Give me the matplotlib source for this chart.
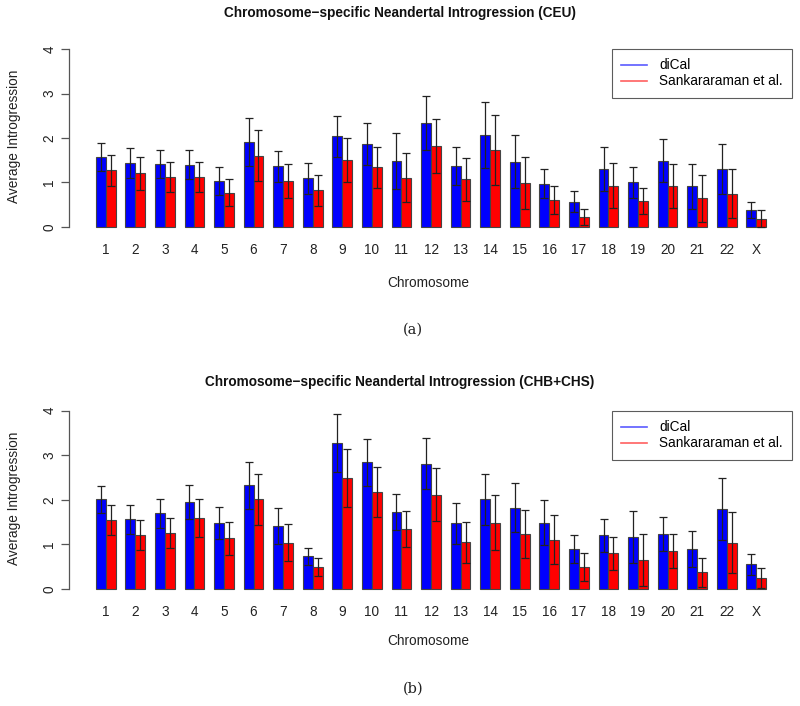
import matplotlib
matplotlib.use("Agg")
import matplotlib.pyplot as plt
from matplotlib.lines import Line2D
import numpy as np

chromosomes = [str(i) for i in range(1, 23)] + ["X"]

ceu_dical = [1.57, 1.44, 1.41, 1.40, 1.03, 1.91, 1.36, 1.09, 2.04, 1.87, 1.48,
             2.34, 1.37, 2.07, 1.47, 0.97, 0.57, 1.30, 1.00, 1.49, 0.91, 1.31, 0.38]
ceu_dical_err = [0.31, 0.34, 0.32, 0.33, 0.32, 0.55, 0.35, 0.34, 0.46, 0.47, 0.63,
                 0.61, 0.43, 0.74, 0.59, 0.33, 0.24, 0.50, 0.34, 0.48, 0.50, 0.56, 0.17]
ceu_sank = [1.27, 1.21, 1.12, 1.12, 0.77, 1.60, 1.04, 0.82, 1.51, 1.34, 1.11,
            1.82, 1.07, 1.73, 0.99, 0.61, 0.23, 0.93, 0.58, 0.92, 0.64, 0.75, 0.18]
ceu_sank_err = [0.34, 0.37, 0.34, 0.34, 0.31, 0.57, 0.38, 0.34, 0.50, 0.46, 0.56,
                0.61, 0.48, 0.78, 0.59, 0.32, 0.18, 0.50, 0.29, 0.49, 0.52, 0.56, 0.19]

chb_dical = [2.01, 1.56, 1.70, 1.95, 1.49, 2.33, 1.41, 0.73, 3.28, 2.84, 1.73,
             2.81, 1.47, 2.01, 1.82, 1.49, 0.90, 1.20, 1.17, 1.23, 0.90, 1.79, 0.55]
chb_dical_err = [0.31, 0.32, 0.33, 0.39, 0.36, 0.53, 0.41, 0.20, 0.65, 0.52, 0.40,
                 0.57, 0.45, 0.58, 0.55, 0.51, 0.32, 0.37, 0.58, 0.38, 0.40, 0.69, 0.24]
chb_sank = [1.55, 1.21, 1.26, 1.59, 1.14, 2.01, 1.04, 0.49, 2.49, 2.18, 1.35,
            2.12, 1.05, 1.49, 1.23, 1.11, 0.49, 0.80, 0.65, 0.85, 0.37, 1.04, 0.25]
chb_sank_err = [0.34, 0.34, 0.34, 0.42, 0.37, 0.57, 0.41, 0.21, 0.64, 0.56, 0.41,
                0.59, 0.46, 0.61, 0.54, 0.54, 0.31, 0.37, 0.58, 0.39, 0.33, 0.69, 0.22]

titles = ["Chromosome\u2212specific Neandertal Introgression (CEU)",
          "Chromosome\u2212specific Neandertal Introgression (CHB+CHS)"]
captions = ["(a)", "(b)"]
legend_labels = ["diCal", "Sankararaman et al."]

plt.rcParams['font.family'] = ['Liberation Sans', 'DejaVu Sans']

W, H = 800, 706
fig = plt.figure(figsize=(W / 100, H / 100), dpi=100)

def fx(px):
    return px / W

def fy(py):
    return 1 - py / H

panels = [
    dict(top=42, bottom=234, data=(ceu_dical, ceu_dical_err, ceu_sank, ceu_sank_err),
         title_y=13, tick_y=250, xlabel_y=283, cap_y=330, leg_top=49),
    dict(top=403.6, bottom=596.1, data=(chb_dical, chb_dical_err, chb_sank, chb_sank_err),
         title_y=382, tick_y=612, xlabel_y=641, cap_y=689, leg_top=411),
]

FS = 9.8
left_px, right_px = 69, 793
n = len(chromosomes)
group_start = 1 + 3 * np.arange(n)
x_blue = group_start + 0.5
x_red = group_start + 1.5
centers = group_start + 1.0

for i, p in enumerate(panels):
    ax = fig.add_axes([fx(left_px), fy(p['bottom']), fx(right_px - left_px),
                       (p['bottom'] - p['top']) / H])
    d_v, d_e, s_v, s_e = p['data']
    ax.bar(x_blue, d_v, width=1.0, color='#0000ff', edgecolor='#444444', linewidth=0.8, zorder=2)
    ax.bar(x_red, s_v, width=1.0, color='#ff0000', edgecolor='#444444', linewidth=0.8, zorder=2)
    ax.errorbar(x_blue, d_v, yerr=d_e, fmt='none', ecolor='#222222', elinewidth=0.9,
                capsize=3.0, capthick=0.9, zorder=3)
    ax.errorbar(x_red, s_v, yerr=s_e, fmt='none', ecolor='#222222', elinewidth=0.9,
                capsize=3.0, capthick=0.9, zorder=3)
    ax.set_xlim(-1.72, 71.72)
    ax.set_ylim(-0.16, 4.16)
    for s in ['top', 'right', 'bottom']:
        ax.spines[s].set_visible(False)
    ax.spines['left'].set_bounds(0, 4)
    ax.spines['left'].set_color('#555555')
    ax.spines['left'].set_linewidth(0.9)
    ax.set_yticks([0, 1, 2, 3, 4])
    ax.set_yticklabels(['0', '1', '2', '3', '4'], rotation=90, va='center', fontsize=FS,
                       color='#222222')
    ax.tick_params(axis='y', length=6, width=0.9, color='#555555', pad=3)
    ax.set_xticks([])
    for c, lab in zip(centers, chromosomes):
        ax.annotate(lab, xy=(c, fy(p['tick_y'])), xycoords=('data', 'figure fraction'),
                    ha='center', va='center', fontsize=FS, color='#222222',
                    annotation_clip=False)
    fig.text(fx(14), fy((p['top'] + p['bottom']) / 2 - 2), "Average Introgression", rotation=90,
             ha='center', va='center', fontsize=FS, color='#222222')
    fig.text(fx(428), fy(p['xlabel_y']), "Chromosome", ha='center', va='center',
             fontsize=FS, color='#222222')
    fig.text(fx(400), fy(p['title_y']), titles[i], ha='center', va='center',
             fontsize=9.8, fontweight='bold', color='#111111')
    fig.text(fx(413), fy(p['cap_y']), captions[i], ha='center', va='center',
             fontsize=10.5, family='DejaVu Serif', color='#222222')
    handles = [Line2D([], [], color='#5b5bff', lw=1.2),
               Line2D([], [], color='#ff6060', lw=1.2)]
    leg = ax.legend(handles, legend_labels, loc='upper right',
                    bbox_to_anchor=(fx(792), fy(p['leg_top'])),
                    bbox_transform=fig.transFigure, frameon=True, fancybox=False,
                    fontsize=FS, handlelength=1.9, borderpad=0.68, labelspacing=0.15,
                    handletextpad=0.9, borderaxespad=0, handleheight=0.6)
    leg.get_frame().set_edgecolor('#333333')
    leg.get_frame().set_linewidth(0.8)

fig.savefig("out.png", dpi=100)
